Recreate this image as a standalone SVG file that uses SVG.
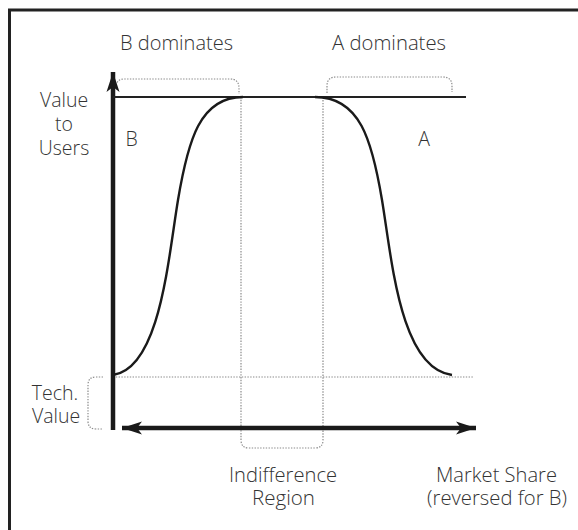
<svg xmlns="http://www.w3.org/2000/svg" width="578" height="530" viewBox="0 0 578 530">
  <style>
    .lbl { font-family: "Open Sans", "Liberation Sans", sans-serif; font-weight: 300; font-size: 19.5px; fill: #333; text-anchor: middle; }
    .dot { fill: none; stroke: #8a8a8a; stroke-width: 1.2; stroke-dasharray: 1.4 1.4; }
    .curve { fill: none; stroke: #1a1a1a; stroke-width: 2.4; }
    .axis { fill: none; stroke: #1a1a1a; stroke-width: 4.5; }
  </style>
  <defs>
    <marker id="head" markerUnits="userSpaceOnUse" markerWidth="24" markerHeight="16" viewBox="-21 -8 22 16" refX="0" refY="0" orient="auto">
      <path d="M0,0 L-20,-6.5 L-15,0 L-20,6.5 Z" fill="#1a1a1a"/>
    </marker>
    <marker id="headStart" markerUnits="userSpaceOnUse" markerWidth="24" markerHeight="16" viewBox="-1 -8 22 16" refX="0" refY="0" orient="auto">
      <path d="M0,0 L20,-6.5 L15,0 L20,6.5 Z" fill="#1a1a1a"/>
    </marker>
  </defs>
  <rect width="578" height="530" fill="#fff"/>
  <rect id="frame" x="9.5" y="10" width="620" height="620" fill="none" stroke="#222" stroke-width="3"/>

  <g id="guides">
    <path class="dot" d="M113,377 L474,377"/>
    <path class="dot" d="M116,88 Q116,79 124,79 L230,79 Q239,79 239,88 L239,94"/>
    <path class="dot" d="M327,93 L327,86 Q327,77 336,77 L443,77 Q452,77 452,86 L452,92"/>
    <path class="dot" d="M241,97 L241,440 Q241,448 249,448 L315,448 Q323,448 323,440 L323,97"/>
    <path class="dot" d="M103,377 L96,377 Q88,377 88,385 L88,421 Q88,429 96,429 L103,429"/>
  </g>

  <g id="connectors">
    <path id="value-axis" class="axis" d="M113,430 L113,72" marker-end="url(#head)"/>
    <path id="share-axis" class="axis" d="M122,428 L476,428" marker-start="url(#headStart)" marker-end="url(#head)"/>
    <path id="max-line" fill="none" stroke="#222" stroke-width="2" d="M113,97 L466,97"/>
  </g>

  <g id="curve-B">
    <path class="curve" d="M113,375 C160,368 168,260 178,200 C188,140 200,97 243,97"/>
    <text class="lbl" x="131.5" y="146">B</text>
  </g>
  <g id="curve-A">
    <path class="curve" d="M315,97 C360,97 372,140 382,200 C392,260 400,368 452,375"/>
    <text class="lbl" x="424" y="146">A</text>
  </g>

  <g id="label-b-dominates">
    <text class="lbl" x="176.5" y="50" textLength="113" lengthAdjust="spacingAndGlyphs">B dominates</text>
  </g>
  <g id="label-a-dominates">
    <text class="lbl" x="389" y="50" textLength="114" lengthAdjust="spacingAndGlyphs">A dominates</text>
  </g>
  <g id="label-value">
    <text class="lbl" x="64" y="107">Value</text>
    <text class="lbl" x="64" y="131">to</text>
    <text class="lbl" x="64" y="155">Users</text>
  </g>
  <g id="label-tech">
    <text class="lbl" x="55" y="400">Tech.</text>
    <text class="lbl" x="56" y="423">Value</text>
  </g>
  <g id="label-indifference">
    <text class="lbl" x="283" y="482" textLength="108" lengthAdjust="spacingAndGlyphs">Indifference</text>
    <text class="lbl" x="283.5" y="505" textLength="63" lengthAdjust="spacingAndGlyphs">Region</text>
  </g>
  <g id="label-market">
    <text class="lbl" x="496.5" y="482" textLength="121" lengthAdjust="spacingAndGlyphs">Market Share</text>
    <text class="lbl" x="497" y="505" textLength="140" lengthAdjust="spacingAndGlyphs">(reversed for B)</text>
  </g>
</svg>
